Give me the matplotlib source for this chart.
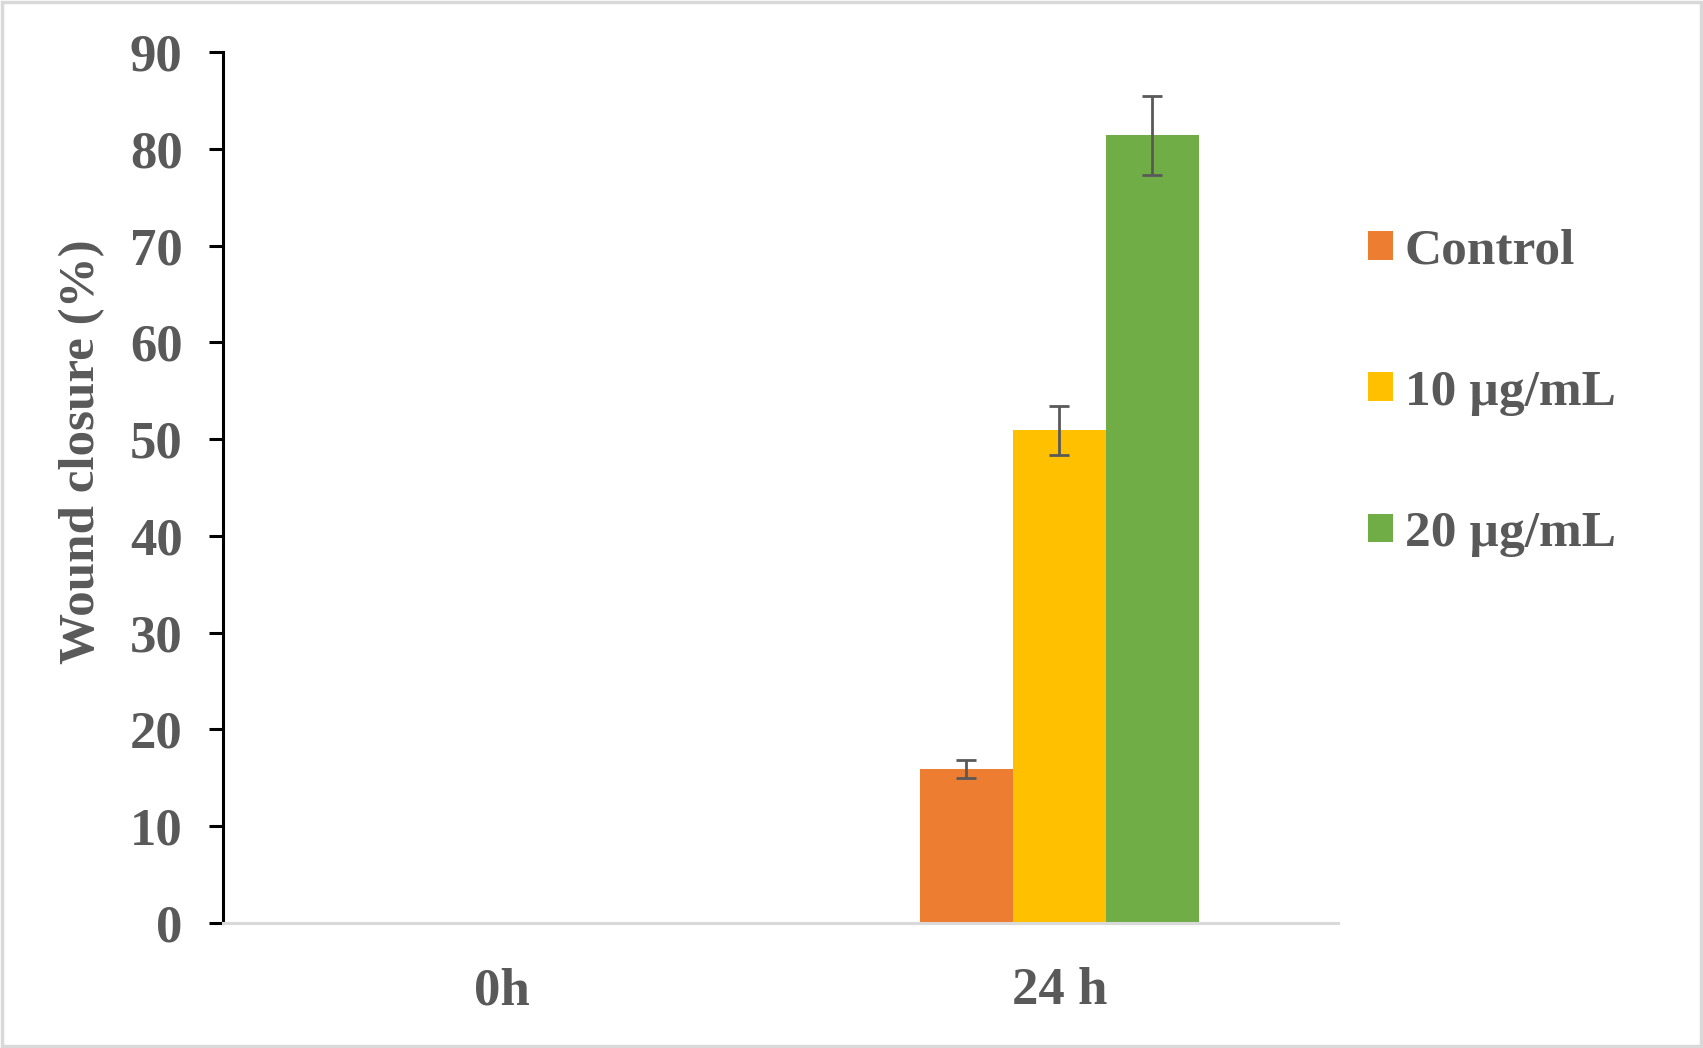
import numpy as np
import matplotlib.pyplot as plt

# data
times = ['0h', '24 h']
groups = ['Control', '10 µg/mL', '20 µg/mL']
control = [0, 15.9]
control_err = [0, 0.9]
dose10 = [0, 50.9]
dose10_err = [0, 2.55]
dose20 = [0, 81.4]
dose20_err = [0, 4.1]

colors = ['#ED7D31', '#FFC000', '#70AD47']
text_gray = '#595959'

plt.rcParams['font.family'] = ['Liberation Serif', 'DejaVu Serif']
plt.rcParams['font.weight'] = 'bold'
plt.rcParams['axes.labelweight'] = 'bold'

fig = plt.figure(figsize=(17.03, 10.48), dpi=100)
ax = fig.add_axes([0.1309, 0.1193, 0.6548, 0.8311])

x = np.arange(len(times))
width = 1 / 6
series = [(control, control_err), (dose10, dose10_err), (dose20, dose20_err)]
for i, (vals, errs) in enumerate(series):
    pos = x + (i - 1) * width
    ax.bar(pos, vals, width, color=colors[i], label=groups[i], linewidth=0, zorder=2)
    # only draw error bars where there is a spread
    keep = np.array(errs) > 0
    ax.errorbar(pos[keep], np.array(vals)[keep], yerr=np.array(errs)[keep],
                fmt='none', ecolor=text_gray, elinewidth=2.0, capsize=7.5,
                capthick=2.0, zorder=3)

ax.set_xlim(-0.5, 1.5)
ax.set_ylim(0, 90)
ax.set_yticks(range(0, 91, 10))
ax.set_xticks(x)
ax.set_xticklabels(times)

for s in ['top', 'right']:
    ax.spines[s].set_visible(False)
ax.spines['left'].set_color('black')
ax.spines['left'].set_linewidth(2.2)
ax.spines['bottom'].set_color('#D9D9D9')
ax.spines['bottom'].set_linewidth(2.2)

ax.tick_params(axis='y', direction='out', length=10, width=2.2, color='black',
               pad=19, labelsize=38, labelcolor=text_gray)
ax.tick_params(axis='x', length=0, pad=32, labelsize=38, labelcolor=text_gray)

ax.set_ylabel('Wound closure (%)', fontsize=36.7, color=text_gray,
              fontweight='bold', labelpad=18)
ax.yaxis.label.set_y(0.541)

fig.legend(loc='center left', bbox_to_anchor=(0.8033, 0.6252), frameon=False,
           fontsize=37, labelcolor=text_gray, handlelength=0.48, handleheight=0.48,
           handletextpad=0.23, labelspacing=1.855, borderpad=0, borderaxespad=0)

# light gray frame around the whole picture
fig.patches.append(plt.Rectangle((0.001, 0.0015), 0.998, 0.997, transform=fig.transFigure,
                                 fill=False, edgecolor='#D9D9D9', linewidth=2.5))

fig.savefig('out.png', dpi=100)
